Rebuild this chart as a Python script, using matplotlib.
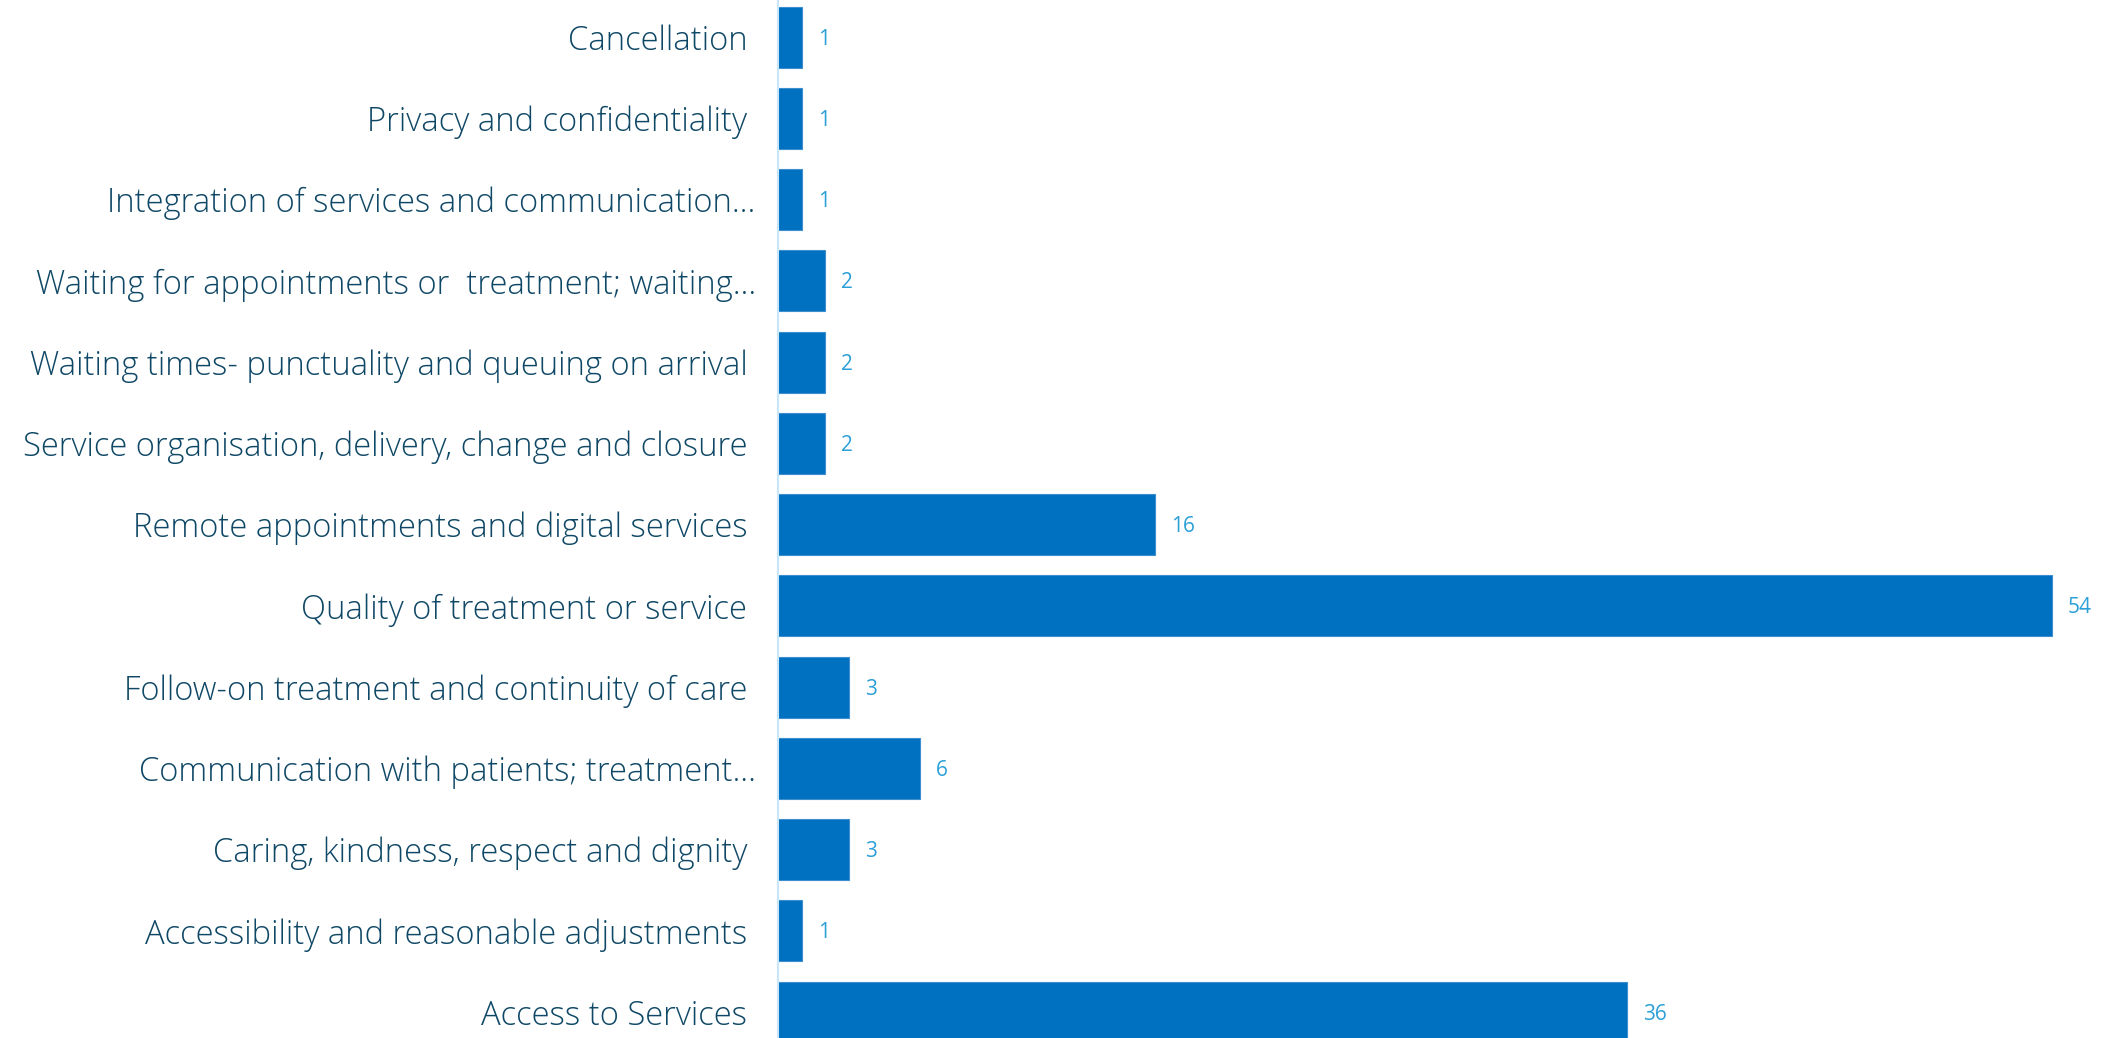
import matplotlib
matplotlib.use("Agg")
import matplotlib.pyplot as plt

# categories top to bottom, as in the report
categories = [
    "Cancellation ",
    "Privacy and confidentiality ",
    "Integration of services and communication\u2026",
    "Waiting for appointments or  treatment; waiting\u2026",
    "Waiting times- punctuality and queuing on arrival ",
    "Service organisation, delivery, change and closure ",
    "Remote appointments and digital services ",
    "Quality of treatment or service ",
    "Follow-on treatment and continuity of care ",
    "Communication with patients; treatment\u2026",
    "Caring, kindness, respect and dignity ",
    "Accessibility and reasonable adjustments ",
    "Access to Services ",
]
counts = [1, 1, 1, 2, 2, 2, 16, 54, 3, 6, 3, 1, 36]

bar_color = "#0070c0"
label_color = "#0f4866"
value_color = "#2a9fd8"
axis_color = "#c8e6f8"

plt.rcParams["font.family"] = ["Open Sans", "DejaVu Sans"]

fig = plt.figure(figsize=(21.23, 10.38), dpi=100)
ax = fig.add_axes([778 / 2123, 0, 1 - 778 / 2123, 1])

ypos = list(range(len(categories)))
ax.barh(ypos, counts, height=0.75, color=bar_color,
        edgecolor="#3d8fd0", linewidth=0.8)

for y, v in zip(ypos, counts):
    ax.annotate(str(v), xy=(v, y), xytext=(16, -2), textcoords="offset pixels",
                va="center", ha="left", fontsize=15, color=value_color)

ax.set_yticks(ypos)
ax.set_yticklabels(categories, fontsize=23.6, color=label_color, fontweight=300)
ax.tick_params(axis="y", length=0, pad=16)
ax.set_xticks([])

ax.set_xlim(0, 1345 / 23.59)
ax.set_ylim(12.32, -0.458)

for s in ["top", "right", "bottom"]:
    ax.spines[s].set_visible(False)
ax.spines["left"].set_color(axis_color)
ax.spines["left"].set_linewidth(1.5)

fig.savefig("out.png", dpi=100, facecolor="white")
